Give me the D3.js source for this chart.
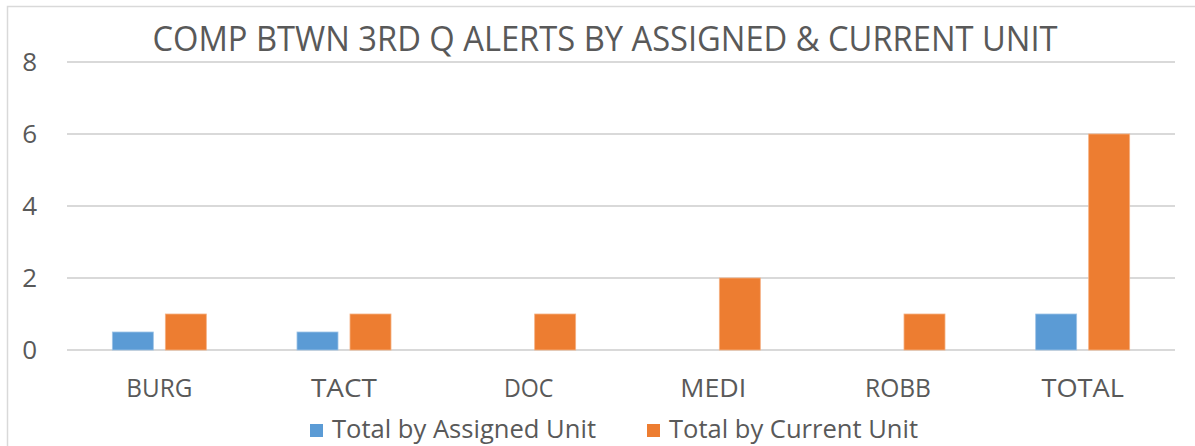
<!DOCTYPE html>
<meta charset="utf-8">
<style>
body { margin: 0; background: #fff; }
svg text { font-family: "Open Sans", sans-serif; fill: #595959; }
.grid line { stroke: #d9d9d9; stroke-width: 1.3px; shape-rendering: crispEdges; }
</style>
<body>
<svg id="chart" width="1195" height="446"></svg>
<script src="https://cdn.jsdelivr.net/npm/d3@7"></script>
<script>
var categories = ["BURG", "TACT", "DOC", "MEDI", "ROBB", "TOTAL"];
var assigned = [0.5, 0.5, 0, 0, 0, 1];
var current = [1, 1, 1, 2, 1, 6];
var seriesNames = ["Total by Assigned Unit", "Total by Current Unit"];
var yTicks = [0, 2, 4, 6, 8];
var title = "COMP BTWN 3RD Q ALERTS BY ASSIGNED & CURRENT UNIT";

var svg = d3.select("#chart");
var colors = ["#5b9bd5", "#ed7d31"];
var strokes = ["#9dc3e6", "#f4b183"];

// chart area border
svg.append("rect")
    .attr("x", 7.5).attr("y", 6.5)
    .attr("width", 1200).attr("height", 460)
    .attr("fill", "none").attr("stroke", "#d9d9d9").attr("stroke-width", 1.5);

var margin = {left: 67, right: 20, top: 62, bottom: 96};
var width = 1195 - margin.left - margin.right,
    height = 446 - margin.top - margin.bottom;

var x = d3.scaleBand().domain(categories).range([0, width]);
var y = d3.scaleLinear().domain([0, 8]).range([height, 0]);

var g = svg.append("g").attr("transform", "translate(" + margin.left + "," + margin.top + ")");

// gridlines
g.append("g").attr("class", "grid")
  .selectAll("line").data(yTicks).enter().append("line")
    .attr("x1", 0).attr("x2", width)
    .attr("y1", function(d) { return Math.round(y(d)); })
    .attr("y2", function(d) { return Math.round(y(d)); });

// y labels
g.selectAll(".ylab").data(yTicks).enter().append("text")
    .attr("class", "ylab")
    .attr("x", -30).attr("y", function(d) { return y(d) + 9; })
    .attr("text-anchor", "end")
    .style("font-size", "26px")
    .text(function(d) { return d; });

// bars
var barW = 41, gap = 12;
var x1 = d3.scaleBand().domain([0, 1]).range([0, barW * 2 + gap]).paddingInner(gap / (barW + gap));
var series = [assigned, current];
var groups = g.selectAll(".cat").data(categories).enter().append("g")
    .attr("transform", function(d) { return "translate(" + (x(d) + (x.bandwidth() - barW * 2 - gap) / 2) + ",0)"; });

groups.selectAll("rect")
    .data(function(d, i) { return series.map(function(s, j) { return {k: j, v: s[i]}; }); })
    .enter().filter(function(d) { return d.v > 0; })
    .append("rect")
    .attr("x", function(d) { return x1(d.k); })
    .attr("y", function(d) { return y(d.v); })
    .attr("width", x1.bandwidth())
    .attr("height", function(d) { return y(0) - y(d.v); })
    .attr("fill", function(d) { return colors[d.k]; })
    .attr("stroke", function(d) { return strokes[d.k]; })
    .attr("stroke-width", 0.8);

// x labels
g.selectAll(".xlab").data(categories).enter().append("text")
    .attr("x", function(d) { return x(d) + x.bandwidth() / 2; })
    .attr("y", height + 47)
    .attr("text-anchor", "middle")
    .style("font-size", "25px")
    .attr("textLength", function(d) { return d.length * 16.5; })
    .attr("lengthAdjust", "spacingAndGlyphs")
    .text(function(d) { return d; });

// title
svg.append("text")
    .attr("x", 605).attr("y", 51)
    .attr("text-anchor", "middle")
    .style("font-size", "35px")
    .attr("textLength", 905)
    .attr("lengthAdjust", "spacingAndGlyphs")
    .text(title);

// legend
var legendX = [310, 647], legendW = [264, 249];
var lg = svg.selectAll(".leg").data(seriesNames).enter().append("g")
    .attr("transform", function(d, i) { return "translate(" + legendX[i] + ",424)"; });
lg.append("rect").attr("width", 13).attr("height", 13)
    .attr("fill", function(d, i) { return colors[i]; });
lg.append("text")
    .attr("x", 22).attr("y", 14)
    .style("font-size", "25px")
    .attr("textLength", function(d, i) { return legendW[i]; })
    .attr("lengthAdjust", "spacingAndGlyphs")
    .text(function(d) { return d; });
</script>
</body>
